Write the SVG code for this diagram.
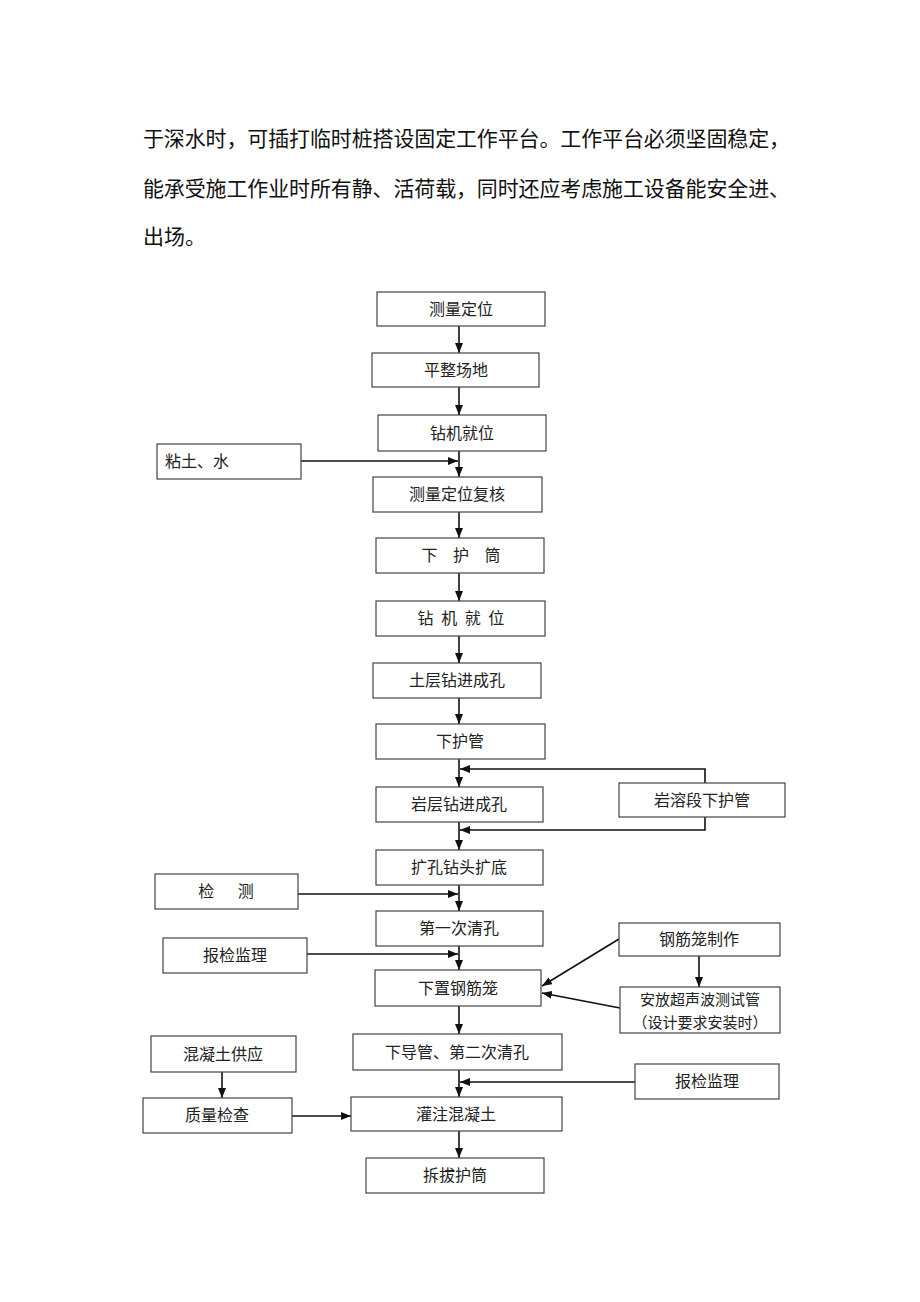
<svg xmlns="http://www.w3.org/2000/svg" width="920" height="1302" viewBox="0 0 920 1302">
<style>
.para{font-family:"Noto Sans CJK SC","Liberation Serif",serif;font-size:21px;fill:#111;}
.box rect{fill:#fff;stroke:#444;stroke-width:1.2;}
.box text{font-family:"Noto Sans CJK SC","Liberation Sans",sans-serif;font-size:16px;fill:#222;text-anchor:middle;dominant-baseline:central;}
.box text.sm{font-size:15px;}
.conn line,.conn polyline{stroke:#111;stroke-width:1.6;fill:none;}
</style>
<defs>
<marker id="ah" viewBox="0 0 10 8" refX="10" refY="4" markerWidth="10" markerHeight="8" markerUnits="userSpaceOnUse" orient="auto">
<path d="M0,0 L10,4 L0,8 Z" fill="#111"/>
</marker>
</defs>
<rect width="920" height="1302" fill="#fff"/>
<g id="paragraph">
<text class="para" x="143" y="137" dominant-baseline="central" textLength="647" lengthAdjust="spacing">于深水时，可插打临时桩搭设固定工作平台。工作平台必须坚固稳定，</text>
<text class="para" x="143" y="187" dominant-baseline="central" textLength="647" lengthAdjust="spacing">能承受施工作业时所有静、活荷载，同时还应考虑施工设备能安全进、</text>
<text class="para" x="143" y="235" dominant-baseline="central">出场。</text>
</g>
<g class="conn" id="connectors">
<line x1="459" y1="326" x2="459" y2="353" marker-end="url(#ah)"/>
<line x1="459" y1="387" x2="459" y2="415" marker-end="url(#ah)"/>
<line x1="459" y1="451" x2="459" y2="477" marker-end="url(#ah)"/>
<line x1="301" y1="461" x2="458" y2="461" marker-end="url(#ah)"/>
<line x1="459" y1="512" x2="459" y2="538" marker-end="url(#ah)"/>
<line x1="459" y1="573" x2="459" y2="601" marker-end="url(#ah)"/>
<line x1="459" y1="636" x2="459" y2="663" marker-end="url(#ah)"/>
<line x1="459" y1="698" x2="459" y2="724" marker-end="url(#ah)"/>
<line x1="459" y1="759" x2="459" y2="787" marker-end="url(#ah)"/>
<polyline points="705,783 705,769 460,769" marker-end="url(#ah)"/>
<line x1="459" y1="822" x2="459" y2="850" marker-end="url(#ah)"/>
<polyline points="705,817 705,830 460,830" marker-end="url(#ah)"/>
<line x1="459" y1="885" x2="459" y2="911" marker-end="url(#ah)"/>
<line x1="298" y1="894" x2="458" y2="894" marker-end="url(#ah)"/>
<line x1="459" y1="946" x2="459" y2="970" marker-end="url(#ah)"/>
<line x1="307" y1="954" x2="458" y2="954" marker-end="url(#ah)"/>
<line x1="619" y1="939" x2="542" y2="986" marker-end="url(#ah)"/>
<line x1="699" y1="956" x2="699" y2="987" marker-end="url(#ah)"/>
<line x1="620" y1="1008" x2="542" y2="993" marker-end="url(#ah)"/>
<line x1="459" y1="1006" x2="459" y2="1034" marker-end="url(#ah)"/>
<line x1="459" y1="1070" x2="459" y2="1097" marker-end="url(#ah)"/>
<line x1="635" y1="1082" x2="460" y2="1082" marker-end="url(#ah)"/>
<line x1="222" y1="1072" x2="222" y2="1098" marker-end="url(#ah)"/>
<line x1="292" y1="1116" x2="351" y2="1116" marker-end="url(#ah)"/>
<line x1="459" y1="1131" x2="459" y2="1158" marker-end="url(#ah)"/>
</g>
<g class="box" id="n1"><rect x="377" y="292" width="168" height="34"/><text x="461" y="307.5">测量定位</text></g>
<g class="box" id="n2"><rect x="372" y="353" width="167" height="34"/><text x="456" y="368.5">平整场地</text></g>
<g class="box" id="n3"><rect x="378" y="415" width="168" height="36"/><text x="462" y="431.5">钻机就位</text></g>
<g class="box" id="n4"><rect x="373" y="477" width="169" height="35"/><text x="457" y="492.5">测量定位复核</text></g>
<g class="box" id="n5"><rect x="376" y="538" width="168" height="35"/><text x="461" y="553.5" style="word-spacing:12px">下 护 筒</text></g>
<g class="box" id="n6"><rect x="376" y="601" width="169" height="35"/><text x="461" y="616.5" style="word-spacing:4px">钻 机 就 位</text></g>
<g class="box" id="n7"><rect x="373" y="663" width="168" height="35"/><text x="457" y="678.5">土层钻进成孔</text></g>
<g class="box" id="n8"><rect x="376" y="724" width="169" height="35"/><text x="460" y="739.5">下护管</text></g>
<g class="box" id="n9"><rect x="376" y="787" width="167" height="35"/><text x="459" y="802.5">岩层钻进成孔</text></g>
<g class="box" id="n10"><rect x="376" y="850" width="167" height="35"/><text x="459" y="865.5">扩孔钻头扩底</text></g>
<g class="box" id="n11"><rect x="376" y="911" width="167" height="35"/><text x="459" y="926.5">第一次清孔</text></g>
<g class="box" id="n12"><rect x="375" y="970" width="166" height="36"/><text x="458" y="986.5">下置钢筋笼</text></g>
<g class="box" id="n13"><rect x="353" y="1034" width="209" height="36"/><text x="457" y="1050.5">下导管、第二次清孔</text></g>
<g class="box" id="n14"><rect x="351" y="1097" width="211" height="34"/><text x="456" y="1112.5">灌注混凝土</text></g>
<g class="box" id="n15"><rect x="366" y="1158" width="178" height="35"/><text x="455" y="1173.5">拆拔护筒</text></g>
<g class="box" id="s1"><rect x="157" y="444" width="144" height="35"/><text x="165" y="459.5" style="text-anchor:start">粘土、水</text></g>
<g class="box" id="s2"><rect x="619" y="783" width="166" height="34"/><text x="702" y="798.5">岩溶段下护管</text></g>
<g class="box" id="s3"><rect x="155" y="874" width="143" height="35"/><text x="226" y="889.5" style="word-spacing:20px">检 测</text></g>
<g class="box" id="s4"><rect x="163" y="938" width="144" height="35"/><text x="235" y="953.5">报检监理</text></g>
<g class="box" id="s5"><rect x="619" y="923" width="161" height="33"/><text x="699" y="937.5">钢筋笼制作</text></g>
<g class="box" id="s6"><rect x="620" y="987" width="160" height="46"/><text class="sm" x="700" y="998.5">安放超声波测试管</text><text class="sm" x="700" y="1021.5">（设计要求安装时）</text></g>
<g class="box" id="s7"><rect x="151" y="1036" width="145" height="36"/><text x="223" y="1052.5">混凝土供应</text></g>
<g class="box" id="s8"><rect x="143" y="1098" width="149" height="35"/><text x="217" y="1113.5">质量检查</text></g>
<g class="box" id="s9"><rect x="635" y="1064" width="144" height="35"/><text x="707" y="1079.5">报检监理</text></g>
</svg>
